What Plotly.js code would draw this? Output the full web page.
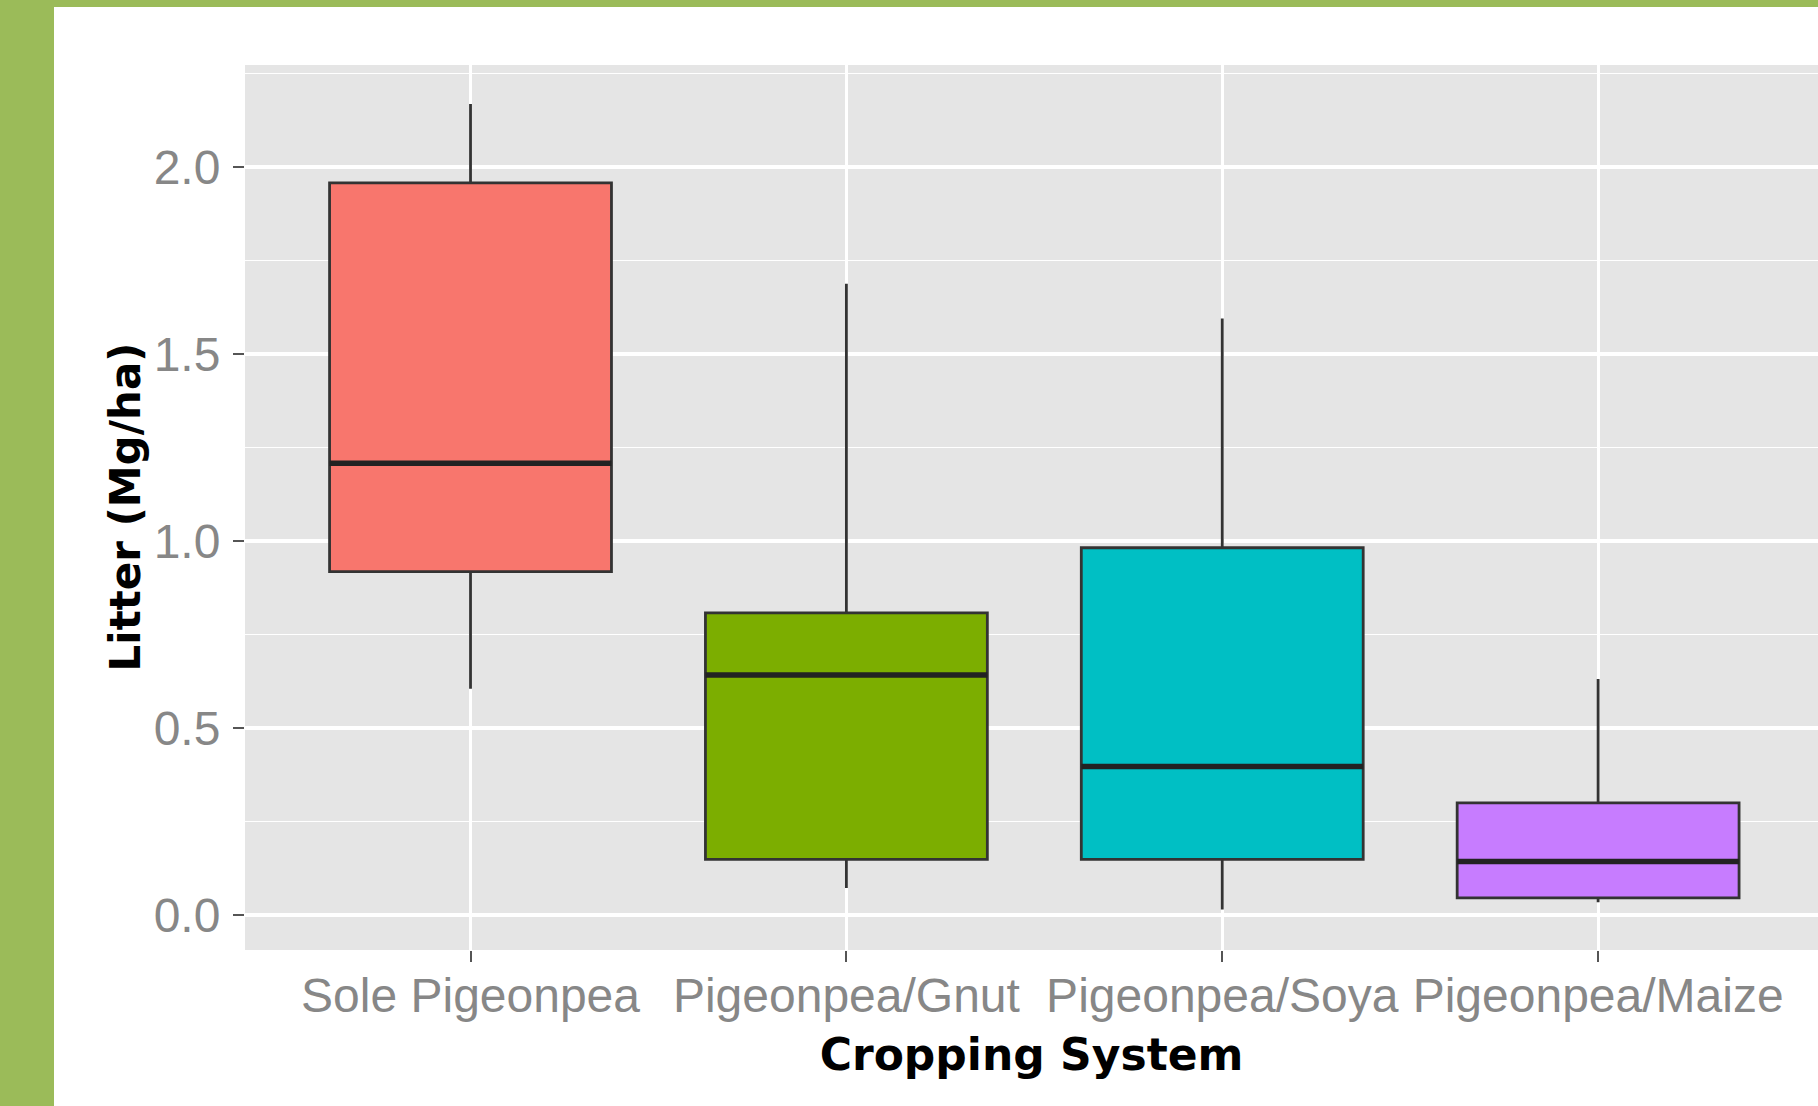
<!DOCTYPE html>
<html>
<head>
<meta charset="utf-8">
<script src="https://cdn.plot.ly/plotly-3.0.1.min.js"></script>
<style>
  html, body { margin: 0; padding: 0; }
  body { width: 1818px; height: 1106px; background: #9BBB59; position: relative; overflow: hidden; }
  #chart { position: absolute; left: 54px; top: 7px; width: 1764px; height: 1099px; background: #ffffff; }
</style>
</head>
<body>
<div id="chart"></div>
<script>
// ---- Data ----
const categories = ["Sole Pigeonpea", "Pigeonpea/Gnut", "Pigeonpea/Soya", "Pigeonpea/Maize"];
const lowerWhisker = [0.605, 0.072, 0.015, 0.034];
const q1Values     = [0.918, 0.149, 0.149, 0.046];
const medianValues = [1.208, 0.642, 0.397, 0.143];
const q3Values     = [1.958, 0.808, 0.982, 0.300];
const upperWhisker = [2.169, 1.688, 1.595, 0.631];
const fillColors   = ["#F8766D", "#7CAE00", "#00BFC4", "#C77CFF"];
const yTickValues  = [0, 0.5, 1.0, 1.5, 2.0];
const yTickLabels  = ["0.0", "0.5", "1.0", "1.5", "2.0"];
const xTitle = "Cropping System";
const yTitle = "Litter (Mg/ha)";

const traces = [];
categories.forEach((cat, i) => {
  traces.push({
    type: "box",
    name: cat,
    x: [cat],
    q1: [q1Values[i]],
    median: [medianValues[i]],
    q3: [q3Values[i]],
    lowerfence: [lowerWhisker[i]],
    upperfence: [upperWhisker[i]],
    width: 0.75,
    whiskerwidth: 0,
    boxpoints: false,
    fillcolor: fillColors[i],
    line: { color: "#333333", width: 2.8 },
    hoverinfo: "skip",
    showlegend: false
  });
});
// thicker median bars (ggplot style), drawn from the median values
categories.forEach((cat, i) => {
  traces.push({
    type: "box",
    name: cat + " median",
    x: [cat],
    q1: [medianValues[i]],
    median: [medianValues[i]],
    q3: [medianValues[i]],
    lowerfence: [medianValues[i]],
    upperfence: [medianValues[i]],
    width: 0.75,
    whiskerwidth: 0,
    boxpoints: false,
    fillcolor: "rgba(0,0,0,0)",
    line: { color: "#222222", width: 5.5 },
    hoverinfo: "skip",
    showlegend: false
  });
});

const layout = {
  width: 1764,
  height: 1099,
  margin: { l: 191, r: 0, t: 58, b: 156, pad: 0 },
  paper_bgcolor: "#ffffff",
  plot_bgcolor: "#E5E5E5",
  showlegend: false,
  boxmode: "overlay",
  font: { family: "Liberation Sans, Arial, sans-serif" },
  xaxis: {
    type: "category",
    categoryorder: "array",
    categoryarray: categories,
    range: [-0.6, 3.585],
    showgrid: true,
    gridcolor: "#ffffff",
    gridwidth: 3,
    zeroline: false,
    showline: false,
    ticks: "outside",
    ticklen: 11,
    tickwidth: 2,
    tickcolor: "#555555",
    ticklabelstandoff: -8,
    tickfont: { family: "Liberation Sans, Arial, sans-serif", size: 48, color: "#878787" },
    title: {
      text: xTitle,
      font: { family: "DejaVu Sans, sans-serif", size: 44, color: "#000000", weight: "bold" },
      standoff: 18
    },
    fixedrange: true
  },
  yaxis: {
    range: [-0.0936, 2.273],
    tickvals: yTickValues,
    ticktext: yTickLabels,
    showgrid: true,
    gridcolor: "#ffffff",
    gridwidth: 3.5,
    zeroline: false,
    showline: false,
    ticks: "outside",
    ticklen: 11,
    tickwidth: 2,
    tickcolor: "#555555",
    ticklabelstandoff: 3,
    tickfont: { family: "Liberation Sans, Arial, sans-serif", size: 48, color: "#878787" },
    minor: { dtick: 0.25, tick0: 0, showgrid: true, gridcolor: "#ffffff", gridwidth: 1.6, ticks: "" },
    fixedrange: true
  },
  annotations: [{
    text: yTitle,
    xref: "paper", yref: "paper",
    x: 0, y: 0.5,
    xshift: -120,
    xanchor: "center", yanchor: "middle",
    textangle: -90,
    showarrow: false,
    font: { family: "DejaVu Sans, sans-serif", size: 42, color: "#000000", weight: "bold" }
  }]
};

Plotly.newPlot("chart", traces, layout, { displayModeBar: false, staticPlot: true });
</script>
</body>
</html>
